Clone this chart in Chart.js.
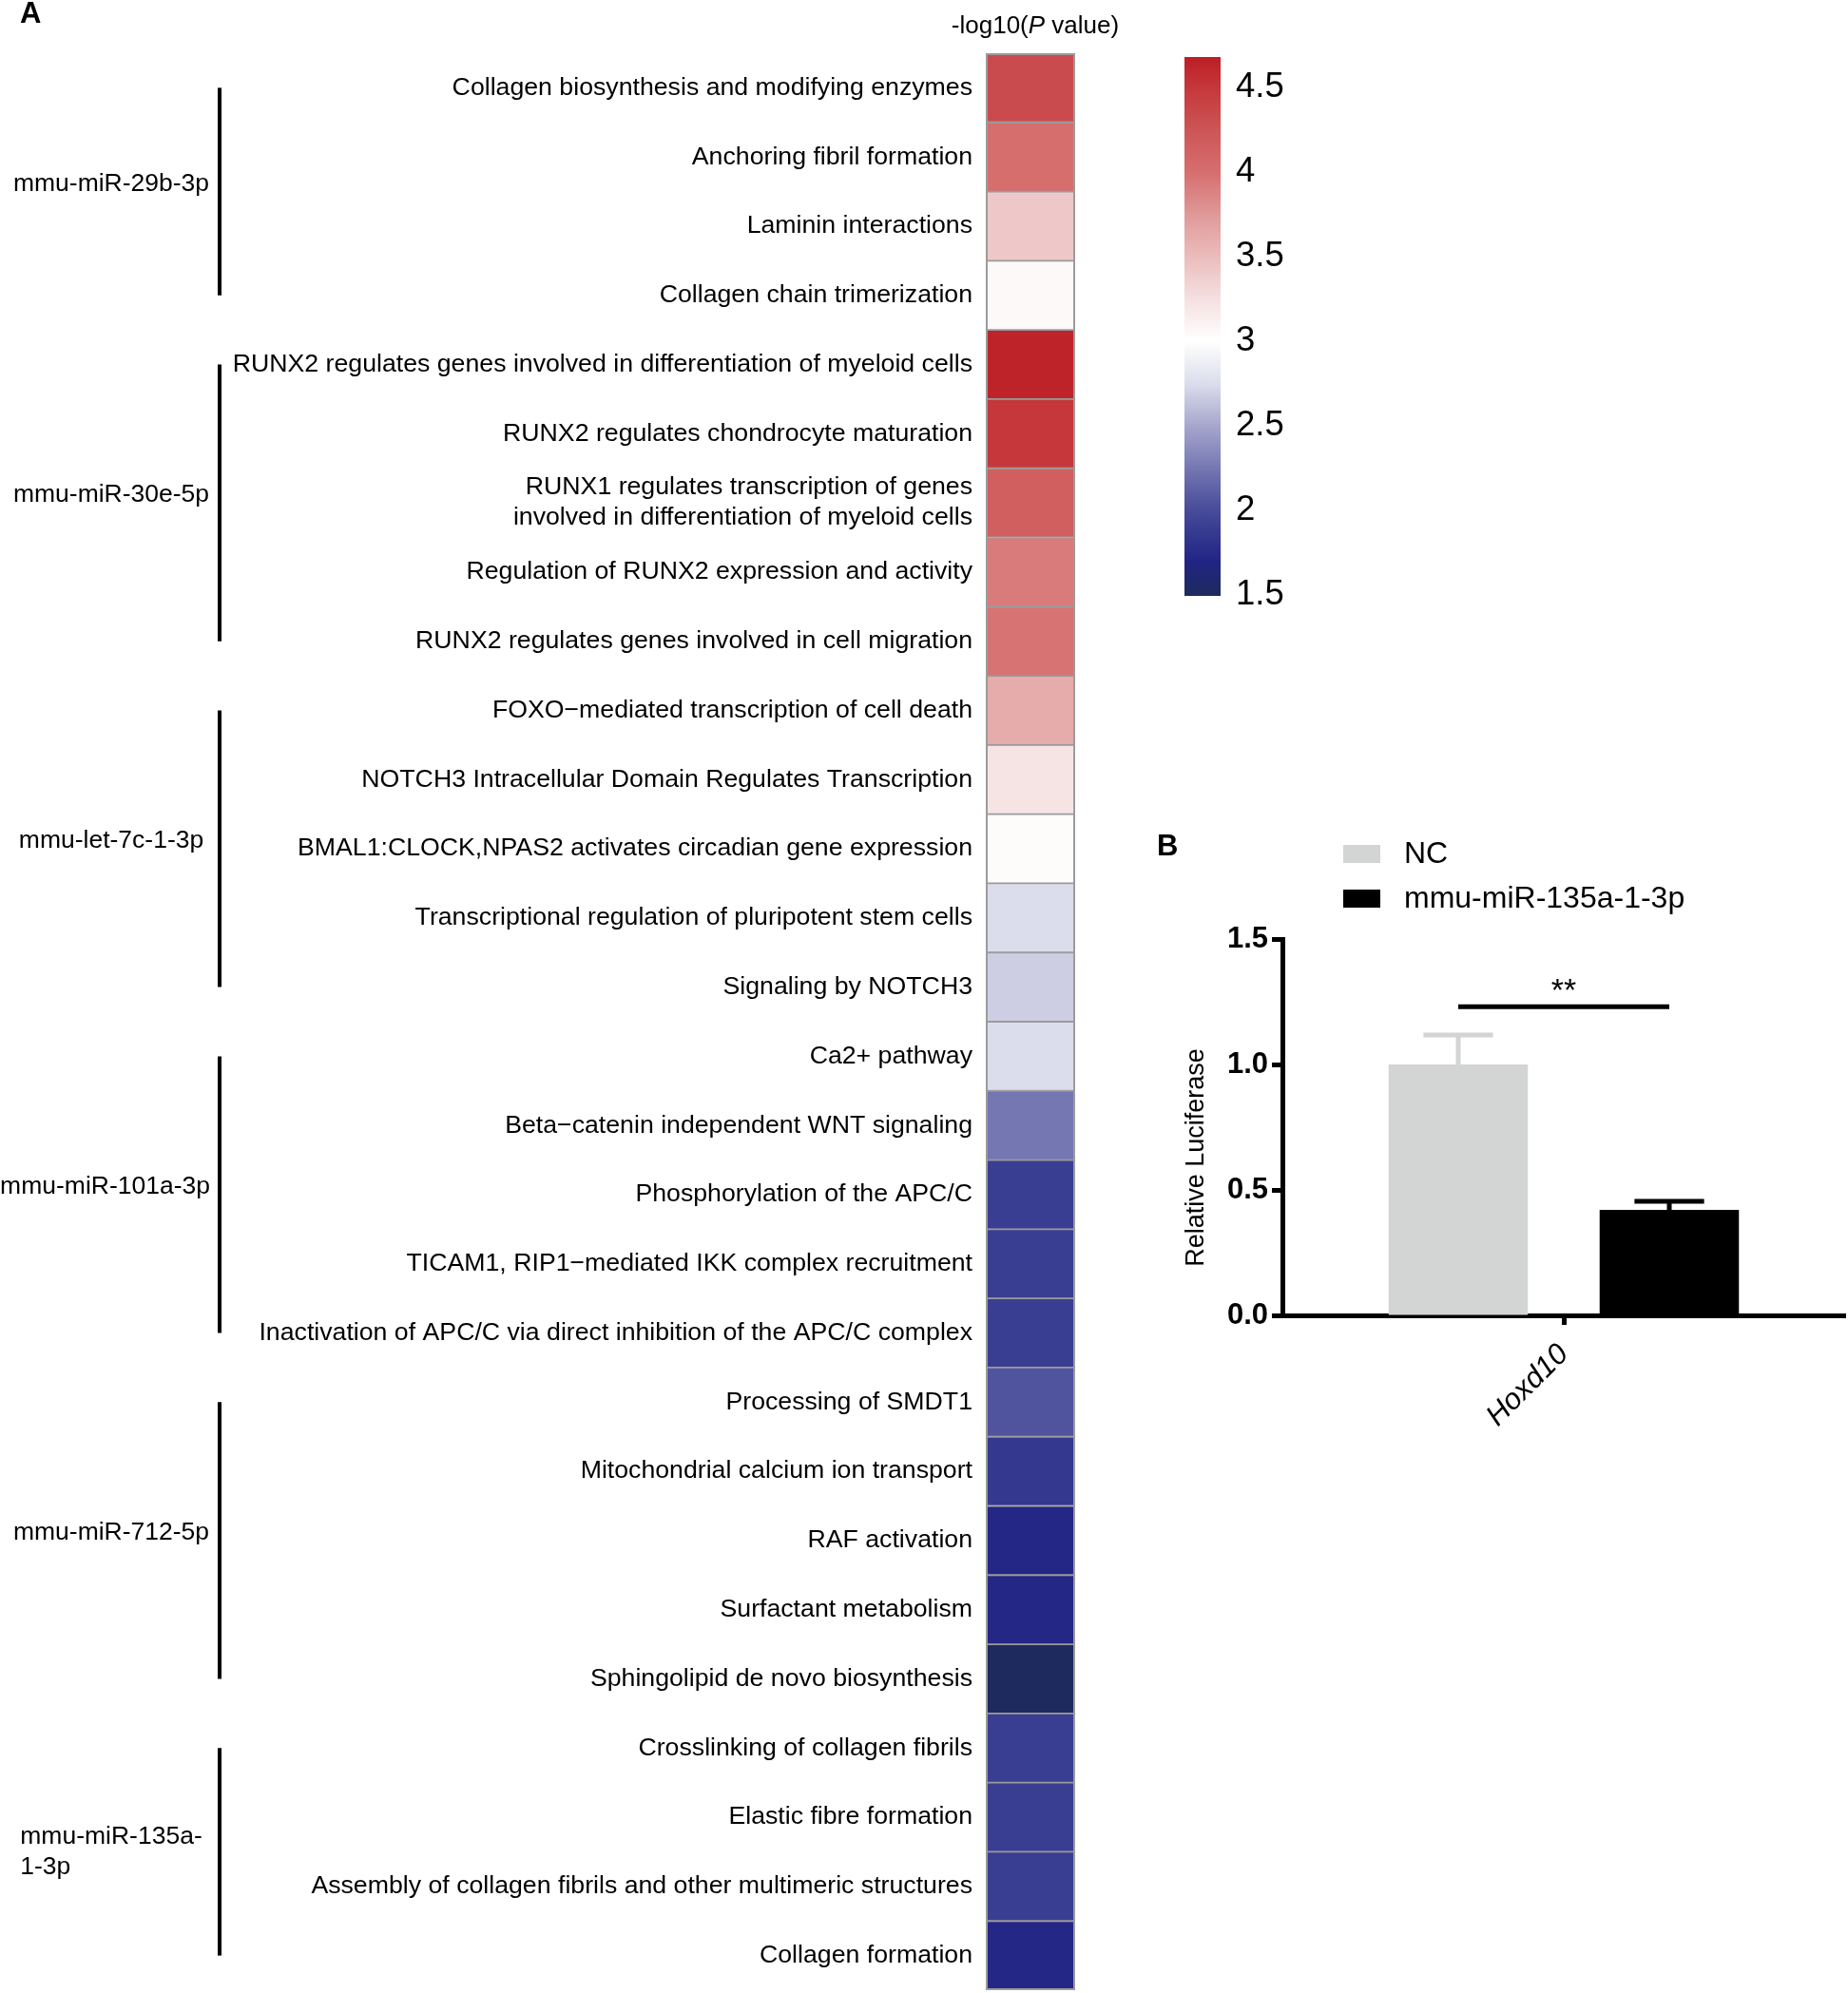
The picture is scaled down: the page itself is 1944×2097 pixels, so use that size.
<!DOCTYPE html>
<html>
<head>
<meta charset="utf-8">
<script src="https://cdn.jsdelivr.net/npm/chart.js@4.4.1/dist/chart.umd.min.js"></script>
<style>
  html, body { margin: 0; padding: 0; background: #ffffff; overflow: hidden; }
  body { width: 1944px; height: 2097px; position: relative; }
  canvas { position: absolute; }
</style>
</head>
<body>
<canvas id="heat" width="1200" height="2130" style="left:0;top:0;width:1200px;height:2130px"></canvas>
<canvas id="cbar" width="200" height="700" style="left:1200px;top:0;width:200px;height:700px"></canvas>
<canvas id="lucif" width="744" height="700" style="left:1200px;top:860px;width:744px;height:700px"></canvas>
<script>
// ---------------- DATA ----------------
const pathways = [
  'Collagen biosynthesis and modifying enzymes',
  'Anchoring fibril formation',
  'Laminin interactions',
  'Collagen chain trimerization',
  'RUNX2 regulates genes involved in differentiation of myeloid cells',
  'RUNX2 regulates chondrocyte maturation',
  ['RUNX1 regulates transcription of genes', 'involved in differentiation of myeloid cells'],
  'Regulation of RUNX2 expression and activity',
  'RUNX2 regulates genes involved in cell migration',
  'FOXO\u2212mediated transcription of cell death',
  'NOTCH3 Intracellular Domain Regulates Transcription',
  'BMAL1:CLOCK,NPAS2 activates circadian gene expression',
  'Transcriptional regulation of pluripotent stem cells',
  'Signaling by NOTCH3',
  'Ca2+ pathway',
  'Beta\u2212catenin independent WNT signaling',
  'Phosphorylation of the APC/C',
  'TICAM1, RIP1\u2212mediated IKK complex recruitment',
  'Inactivation of APC/C via direct inhibition of the APC/C complex',
  'Processing of SMDT1',
  'Mitochondrial calcium ion transport',
  'RAF activation',
  'Surfactant metabolism',
  'Sphingolipid de novo biosynthesis',
  'Crosslinking of collagen fibrils',
  'Elastic fibre formation',
  'Assembly of collagen fibrils and other multimeric structures',
  'Collagen formation'
];
const logP = [4.33, 4.0, 3.42, 3.05, 4.64, 4.5, 4.15, 3.92, 3.97, 3.62, 3.22, 3.03, 2.75, 2.68,
              2.75, 2.25, 1.9, 1.9, 1.9, 2.05, 1.85, 1.72, 1.72, 1.5, 1.9, 1.9, 1.9, 1.72];
const groupNames = [['mmu-miR-29b-3p'], ['mmu-miR-30e-5p'], ['mmu-let-7c-1-3p'],
                    ['mmu-miR-101a-3p'], ['mmu-miR-712-5p'], ['mmu-miR-135a-', '1-3p']];
const groupSizes = [4, 5, 5, 5, 5, 4];
const heatTitle = ['-log10(', 'P', ' value)'];
const colorbarTicks = [1.5, 2, 2.5, 3, 3.5, 4, 4.5];
const colorbarRange = [1.494, 4.679];

const lucCategories = ['Hoxd10'];
const lucGroups = ['NC', 'mmu-miR-135a-1-3p'];
const lucMean = [1.0, 0.42];
const lucSEM = [0.117, 0.035];
const lucTicks = [0, 0.5, 1.0, 1.5];
const lucAxisTitle = 'Relative Luciferase';
const sigLabel = '**';
const sigY = 1.23;

// ---------------- STYLE ----------------
const FONT = "'Liberation Sans', Arial, Helvetica, sans-serif";
Chart.defaults.font.family = FONT;
Chart.defaults.color = '#000000';
Chart.defaults.animation = false;

const colorStops = [
  [1.494, [30, 42, 92]],
  [1.70, [33, 36, 132]],
  [2.0, [71, 75, 153]],
  [2.25, [117, 119, 179]],
  [2.5, [166, 167, 205]],
  [2.75, [220, 221, 236]],
  [3.0, [255, 255, 255]],
  [3.25, [245, 224, 224]],
  [3.5, [235, 188, 188]],
  [3.75, [224, 152, 152]],
  [4.0, [214, 110, 110]],
  [4.25, [205, 85, 86]],
  [4.5, [197, 55, 58]],
  [4.679, [189, 30, 38]]
];
function rgbStr(c) { return 'rgb(' + c.map(v => Math.round(v)).join(',') + ')'; }
function colorFor(v) {
  if (v <= colorStops[0][0]) return rgbStr(colorStops[0][1]);
  for (let i = 1; i < colorStops.length; i++) {
    const [v1, c1] = colorStops[i];
    const [v0, c0] = colorStops[i - 1];
    if (v <= v1) {
      const t = (v - v0) / (v1 - v0);
      return rgbStr(c0.map((c, k) => c + (c1[k] - c) * t));
    }
  }
  return rgbStr(colorStops[colorStops.length - 1][1]);
}

// ---------------- HEATMAP ----------------
const heatPlugin = {
  id: 'heatExtras',
  afterDraw(chart) {
    const ctx = chart.ctx;
    const ys = chart.scales.y;
    const area = chart.chartArea;
    ctx.save();
    // outer frame
    ctx.strokeStyle = '#9b9b9b';
    ctx.lineWidth = 2;
    ctx.strokeRect(area.left + 1, area.top + 1, area.right - area.left - 2, area.bottom - area.top - 2);
    // panel letter
    ctx.fillStyle = '#000';
    ctx.font = 'bold 31px ' + FONT;
    ctx.textBaseline = 'alphabetic';
    ctx.textAlign = 'left';
    ctx.fillText('A', 21, 24);
    // title with italic P
    const fN = '26px ' + FONT, fI = 'italic 26px ' + FONT;
    ctx.font = fN; const w0 = ctx.measureText(heatTitle[0]).width;
    ctx.font = fI; const w1 = ctx.measureText(heatTitle[1]).width;
    ctx.font = fN; const w2 = ctx.measureText(heatTitle[2]).width;
    let x = 1089 - (w0 + w1 + w2) / 2;
    ctx.textBaseline = 'middle';
    ctx.font = fN; ctx.fillText(heatTitle[0], x, 28); x += w0;
    ctx.font = fI; ctx.fillText(heatTitle[1], x, 28); x += w1;
    ctx.font = fN; ctx.fillText(heatTitle[2], x, 28);
    // groups
    let start = 0;
    ctx.font = '26.5px ' + FONT;
    groupNames.forEach((lines, g) => {
      const end = start + groupSizes[g] - 1;
      const yTop = ys.getPixelForValue(start);
      const yBot = ys.getPixelForValue(end);
      ctx.strokeStyle = '#000';
      ctx.lineWidth = 4;
      ctx.beginPath();
      ctx.moveTo(231, yTop);
      ctx.lineTo(231, yBot);
      ctx.stroke();
      const maxW = Math.max(...lines.map(l => ctx.measureText(l).width));
      const lh = 32;
      const cy = (yTop + yBot) / 2 + (lines.length === 1 ? -8 : 0);
      const left = Math.max(0, Math.min(117 - maxW / 2, 221 - maxW));
      lines.forEach((l, i) => {
        ctx.fillText(l, left, cy + (i - (lines.length - 1) / 2) * lh);
      });
      start = end + 1;
    });
    ctx.restore();
  }
};

new Chart(document.getElementById('heat'), {
  type: 'bar',
  data: {
    labels: pathways,
    datasets: [{
      data: logP.map(() => 1),
      backgroundColor: logP.map(colorFor),
      borderColor: '#9b9b9b',
      borderWidth: 1.25,
      borderSkipped: false,
      barPercentage: 1,
      categoryPercentage: 1
    }]
  },
  options: {
    indexAxis: 'y',
    responsive: false,
    devicePixelRatio: 1,
    layout: { padding: { top: 56, bottom: 36, left: 0, right: 69 } },
    plugins: { legend: { display: false }, tooltip: { enabled: false } },
    scales: {
      x: { display: false, min: 0, max: 1 },
      y: {
        grid: { display: false, drawTicks: false },
        border: { display: false },
        ticks: { font: { size: 26.7 }, color: '#000', padding: 14, autoSkip: false },
        afterFit(s) { s.width = 1037; }
      }
    }
  },
  plugins: [heatPlugin]
});

// ---------------- COLORBAR ----------------
const cbarPlugin = {
  id: 'cbarGradient',
  beforeDatasetsDraw(chart) {
    const ctx = chart.ctx;
    const ys = chart.scales.y;
    const yMin = ys.getPixelForValue(colorbarRange[0]);
    const yMax = ys.getPixelForValue(colorbarRange[1]);
    const a = chart.chartArea;
    const grad = ctx.createLinearGradient(0, yMin, 0, yMax);
    colorStops.forEach(([v, c]) => {
      const t = (v - colorbarRange[0]) / (colorbarRange[1] - colorbarRange[0]);
      grad.addColorStop(Math.min(1, Math.max(0, t)), rgbStr(c));
    });
    ctx.save();
    ctx.fillStyle = grad;
    ctx.fillRect(a.left, yMax, a.right - a.left, yMin - yMax);
    ctx.restore();
  }
};

new Chart(document.getElementById('cbar'), {
  type: 'bar',
  data: { labels: [''], datasets: [{ data: [] }] },
  options: {
    responsive: false,
    devicePixelRatio: 1,
    layout: { padding: { top: 60, bottom: 73, left: 46, right: 0 } },
    plugins: { legend: { display: false }, tooltip: { enabled: false } },
    scales: {
      x: { display: false },
      y: {
        position: 'right',
        min: colorbarRange[0],
        max: colorbarRange[1],
        grid: { display: false, drawTicks: false },
        border: { display: false },
        afterBuildTicks(s) { s.ticks = colorbarTicks.map(v => ({ value: v })); },
        ticks: { font: { size: 36.5 }, color: '#000', padding: 16, callback: v => String(v) },
        afterFit(s) { s.width = 116; }
      }
    }
  },
  plugins: [cbarPlugin]
});

// ---------------- LUCIFERASE BAR CHART ----------------
const lucColors = ['#d3d4d4', '#000000'];
const lucPlugin = {
  id: 'lucExtras',
  afterDatasetsDraw(chart) {
    const ctx = chart.ctx;
    const ys = chart.scales.y;
    ctx.save();
    chart.data.datasets.forEach((ds, di) => {
      const meta = chart.getDatasetMeta(di);
      meta.data.forEach((el, i) => {
        const top = ys.getPixelForValue(lucMean[di] + lucSEM[di]);
        ctx.strokeStyle = lucColors[di];
        ctx.lineWidth = 5;
        ctx.beginPath();
        ctx.moveTo(el.x, el.y);
        ctx.lineTo(el.x, top);
        ctx.moveTo(el.x - el.width / 4, top);
        ctx.lineTo(el.x + el.width / 4, top);
        ctx.stroke();
      });
    });
    ctx.restore();
  },
  afterDraw(chart) {
    const ctx = chart.ctx;
    const ys = chart.scales.y;
    ctx.save();
    // panel letter
    ctx.fillStyle = '#000';
    ctx.font = 'bold 31px ' + FONT;
    ctx.textAlign = 'left';
    ctx.textBaseline = 'alphabetic';
    ctx.fillText('B', 17, 40);
    // legend
    ctx.font = '32px ' + FONT;
    ctx.textBaseline = 'middle';
    lucGroups.forEach((g, i) => {
      const y = 29 + i * 47;
      ctx.fillStyle = lucColors[i];
      ctx.fillRect(213, y, 39, 19);
      ctx.fillStyle = '#000';
      ctx.fillText(g, 277, y + 10);
    });
    // y axis title
    ctx.save();
    ctx.translate(59, 358);
    ctx.rotate(-Math.PI / 2);
    ctx.textAlign = 'center';
    ctx.font = '27px ' + FONT;
    ctx.fillText(lucAxisTitle, 0, 0);
    ctx.restore();
    // significance bracket
    const m0 = chart.getDatasetMeta(0).data[0];
    const m1 = chart.getDatasetMeta(1).data[0];
    const sy = ys.getPixelForValue(sigY);
    ctx.strokeStyle = '#000';
    ctx.lineWidth = 5;
    ctx.beginPath();
    ctx.moveTo(m0.x, sy);
    ctx.lineTo(m1.x, sy);
    ctx.stroke();
    ctx.font = '34px ' + FONT;
    ctx.textAlign = 'center';
    ctx.textBaseline = 'alphabetic';
    ctx.fillText(sigLabel, (m0.x + m1.x) / 2, sy - 6);
    ctx.restore();
  }
};

new Chart(document.getElementById('lucif'), {
  type: 'bar',
  data: {
    labels: lucCategories,
    datasets: lucGroups.map((g, i) => ({
      label: g,
      data: [lucMean[i]],
      backgroundColor: lucColors[i],
      borderWidth: 0,
      barPercentage: 0.66,
      categoryPercentage: 0.75
    }))
  },
  options: {
    responsive: false,
    devicePixelRatio: 1,
    layout: { padding: { top: 128, right: 3, left: 0, bottom: 0 } },
    plugins: { legend: { display: false }, tooltip: { enabled: false } },
    scales: {
      x: {
        offset: true,
        grid: { offset: false, drawOnChartArea: false, tickLength: 10, tickWidth: 5, tickColor: '#000' },
        border: { width: 5, color: '#000' },
        ticks: { font: { size: 31, style: 'italic' }, color: '#000', minRotation: 45, maxRotation: 45, padding: 13, autoSkip: false },
        afterFit(s) { s.height = 176; }
      },
      y: {
        min: 0,
        max: 1.5,
        afterBuildTicks(s) { s.ticks = lucTicks.map(v => ({ value: v })); },
        grid: { drawOnChartArea: false, tickLength: 11, tickWidth: 5, tickColor: '#000' },
        border: { width: 5, color: '#000' },
        ticks: { font: { size: 31, weight: 'bold' }, color: '#000', padding: 4, callback: v => Number(v).toFixed(1) },
        afterFit(s) { s.width = 149; }
      }
    }
  },
  plugins: [lucPlugin]
});
</script>
</body>
</html>
